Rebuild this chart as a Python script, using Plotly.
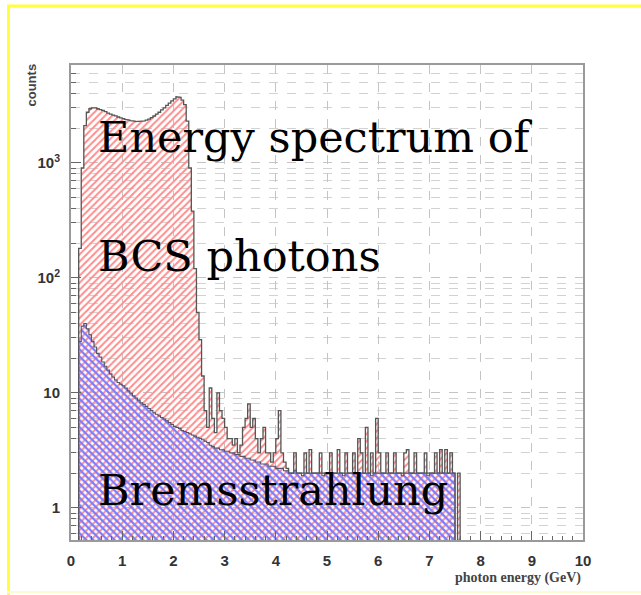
import plotly.graph_objects as go

# ---------------- data ----------------
BIN_WIDTH = 0.05   # GeV per histogram bin
E_START = 0.0      # left edge of first bin

# total spectrum (BCS photons + background), counts per bin
bcs_total = [
    0, 0, 0, 180, 900, 2100, 2750, 2950, 3000, 3000,
    2950, 2900, 2850, 2780, 2700, 2650, 2600, 2560, 2500, 2460,
    2420, 2380, 2350, 2320, 2300, 2280, 2280, 2290, 2310, 2350,
    2400, 2470, 2550, 2650, 2750, 2880, 3000, 3150, 3300, 3450,
    3600, 3750, 3700, 3500, 3200, 2300, 900, 380, 120, 50,
    29, 14, 7, 5, 11, 6, 4.5, 10, 7, 6,
    5, 4, 4, 3.5, 4, 3, 3.5, 5, 6, 8,
    5, 6, 4, 3, 4, 5, 3, 3, 2.5, 3,
    4, 7, 3, 2.5, 2.2,
    2, 2, 3, 2, 2, 2, 3, 2, 3.2, 2,
    2, 2, 3, 2, 2, 2, 3, 2, 2, 3.2,
    2, 2, 3, 2, 2, 3, 2, 4, 3, 2,
    5, 2, 3, 2, 6, 3, 2, 2, 3, 2,
    2, 3, 2, 2, 2, 3, 3.2, 2, 2, 3,
    2, 2, 2, 3, 2, 2, 2, 3, 2, 3.2,
    2, 3.2, 2, 3, 2, 0, 2, 0,
]

# bremsstrahlung background, counts per bin
brems = [
    0, 0, 0, 28, 38, 40, 36, 32, 28, 25,
    22, 20.5, 18.5, 17, 15.8, 14.6, 13.7, 12.9, 12.3, 11.9,
    11.5, 11, 10.4, 9.9, 9.4, 9, 8.6, 8.2, 7.9, 7.6,
    7.3, 7, 6.7, 6.5, 6.3, 6.1, 5.9, 5.7, 5.5, 5.3,
    5.1, 5, 4.9, 4.7, 4.6, 4.5, 4.4, 4.3, 4.2, 4.1,
    4, 3.9, 3.8, 3.7, 3.5, 3.4, 3.3, 3.3, 3.2, 3.2,
    3.1, 3.1, 3, 3, 2.9, 2.9, 2.8, 2.8, 2.7, 2.7,
    2.6, 2.6, 2.5, 2.5, 2.4, 2.4, 2.4, 2.3, 2.3, 2.3,
    2.2, 2.2, 2.2, 2.1, 2.1,
    2, 2, 2.1, 2, 2, 1.9, 2, 2, 2, 2,
    2, 2, 2, 1.9, 2, 2, 2, 2, 2, 2,
    2, 1.9, 2, 2, 2, 2, 2, 2, 2, 2,
    2, 2, 1.9, 2, 2, 2, 2, 2, 2, 2,
    2, 2, 2, 2, 1.9, 2, 2, 2, 2, 2,
    2, 2, 2, 2, 1.9, 2, 2, 2, 2, 2,
    2, 2, 2, 2, 2, 0, 0, 0,
]

x_ticks = [0, 1, 2, 3, 4, 5, 6, 7, 8, 9, 10]
y_ticks = [1, 10, 100, 1000]
y_ticktext = ["1", "10", "10<sup>2</sup>", "10<sup>3</sup>"]

# ---------------- helpers ----------------
FLOOR = 1e-2  # stand-in for empty bins on the log axis (below visible range)


def step_polygon(values):
    xs, ys = [], []
    for i, v in enumerate(values):
        x0 = E_START + i * BIN_WIDTH
        x1 = x0 + BIN_WIDTH
        vv = v if v > 0 else FLOOR
        xs += [x0, x1]
        ys += [vv, vv]
    xs = [xs[0]] + xs + [xs[-1]]
    ys = [FLOOR] + ys + [FLOOR]
    return xs, ys


W, H = 641, 595
L, R, T, B = 71, 58, 65, 55
PW, PH = W - L - R, H - T - B


def px(xp):
    return (xp - L) / PW


def py(yp):
    return (H - B - yp) / PH


fig = go.Figure()

xr, yr = step_polygon(bcs_total)
fig.add_trace(go.Scatter(
    x=xr, y=yr, mode="lines", fill="toself",
    line=dict(color="#555555", width=1.3),
    fillcolor="rgba(255,255,255,0)",
    fillpattern=dict(shape="/", size=5, solidity=0.4, fgcolor="#ff8c8c",
                     bgcolor="rgba(255,255,255,0)", fillmode="replace"),
    hoverinfo="skip", showlegend=False,
))

xb, yb = step_polygon(brems)
fig.add_trace(go.Scatter(
    x=xb, y=yb, mode="lines", fill="toself",
    line=dict(color="#555566", width=1.1),
    fillcolor="rgba(255,255,255,0)",
    fillpattern=dict(shape="\\", size=5, solidity=0.45, fgcolor="#7b7bff",
                     bgcolor="rgba(255,255,255,0)", fillmode="replace"),
    hoverinfo="skip", showlegend=False,
))

tickfont = dict(family="Liberation Sans", size=15, color="#333333", weight="bold")

fig.update_xaxes(
    range=[0, 10], tickvals=x_ticks, ticks="inside", ticklen=9, tickcolor="#666",
    showgrid=True, gridcolor="#c4c4c4", griddash="dash", gridwidth=1,
    minor=dict(dtick=0.2, ticks="inside", ticklen=4, tickcolor="#666", showgrid=False),
    showline=True, mirror=True, linecolor="#9a9a9a", linewidth=2,
    zeroline=False, tickfont=tickfont, ticklabelstandoff=6,
)
fig.update_yaxes(
    type="log", range=[-0.28, 3.85], tickvals=y_ticks, ticktext=y_ticktext,
    ticks="inside", ticklen=10, tickcolor="#666",
    showgrid=True, gridcolor="#c4c4c4", griddash="dash", gridwidth=1,
    minor=dict(dtick="D1", ticks="inside", ticklen=5, tickcolor="#666",
               showgrid=True, gridcolor="#d2d2d2", griddash="dash"),
    showline=True, mirror=True, linecolor="#9a9a9a", linewidth=2,
    zeroline=False, tickfont=tickfont, ticklabelstandoff=6,
)

serif = dict(family="DejaVu Serif", size=43, color="black")
annotations = [
    dict(text="Energy spectrum of", x=px(96), y=py(137), xanchor="left", yanchor="middle",
         font=serif),
    dict(text="BCS photons", x=px(96), y=py(256), xanchor="left", yanchor="middle",
         font=serif),
    dict(text="Bremsstrahlung", x=px(96), y=py(490), xanchor="left", yanchor="middle",
         font=serif),
    dict(text="counts", x=px(31), y=py(62), xanchor="center", yanchor="top", textangle=-90,
         font=dict(family="Liberation Sans", size=13, color="#444", weight="bold")),
    dict(text="photon energy (GeV)", x=1.0, y=py(578), xanchor="right", yanchor="middle",
         font=dict(family="Liberation Serif", size=14, color="#444", weight="bold")),
]
for a in annotations:
    a.update(xref="paper", yref="paper", showarrow=False)

shapes = [
    dict(type="line", xref="paper", yref="paper", x0=px(8.5), x1=px(8.5), y0=py(5), y1=py(600),
         line=dict(color="#ffff3c", width=3)),
    dict(type="line", xref="paper", yref="paper", x0=px(7), x1=px(700), y0=py(6), y1=py(6),
         line=dict(color="#ffff3c", width=3)),
    dict(type="line", xref="paper", yref="paper", x0=px(7), x1=px(700), y0=py(592), y1=py(592),
         line=dict(color="#fbfbd8", width=2)),
]

fig.update_layout(
    width=W, height=H, margin=dict(l=L, r=R, t=T, b=B),
    paper_bgcolor="white", plot_bgcolor="white",
    annotations=annotations, shapes=shapes,
)

fig.write_html("out.html")
